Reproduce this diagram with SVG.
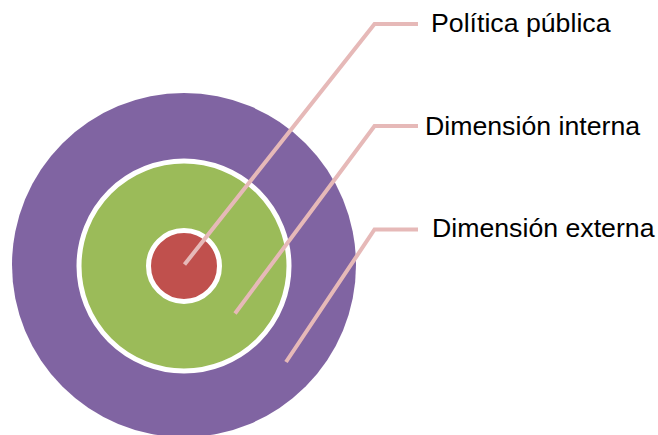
<svg xmlns="http://www.w3.org/2000/svg" width="658" height="435" viewBox="0 0 658 435">
  <style>
    .ring { stroke: #ffffff; stroke-width: 5; }
    .label { font-family: "Liberation Sans", Arial, sans-serif; font-size: 26.7px; fill: #000000; }
    .leader { fill: none; stroke: #e6b9b8; stroke-width: 4; stroke-linejoin: miter; }
  </style>
  <rect width="658" height="435" fill="#ffffff"/>

  <!-- Outer ring: external dimension -->
  <g id="dimension-externa">
    <circle cx="184" cy="265" r="172" fill="#8064a2"/>
    <text class="label" x="432" y="237">Dimensión externa</text>
  </g>

  <!-- Middle ring: internal dimension -->
  <g id="dimension-interna">
    <circle class="ring" cx="184" cy="266" r="105" fill="#9bbb59"/>
    <text class="label" x="425" y="135">Dimensión interna</text>
  </g>

  <!-- Core: public policy -->
  <g id="politica-publica">
    <circle class="ring" cx="184" cy="266" r="35.5" fill="#c0504d"/>
    <text class="label" x="431" y="32">Política pública</text>
  </g>

  <!-- Leader lines from each ring to its label -->
  <g id="connectors">
    <polyline class="leader" points="184.5,264.5 374.5,24 418,24"/>
    <polyline class="leader" points="235,313.5 374.5,126 418,126"/>
    <polyline class="leader" points="286,362 374.5,229.5 418,229.5"/>
  </g>
</svg>
